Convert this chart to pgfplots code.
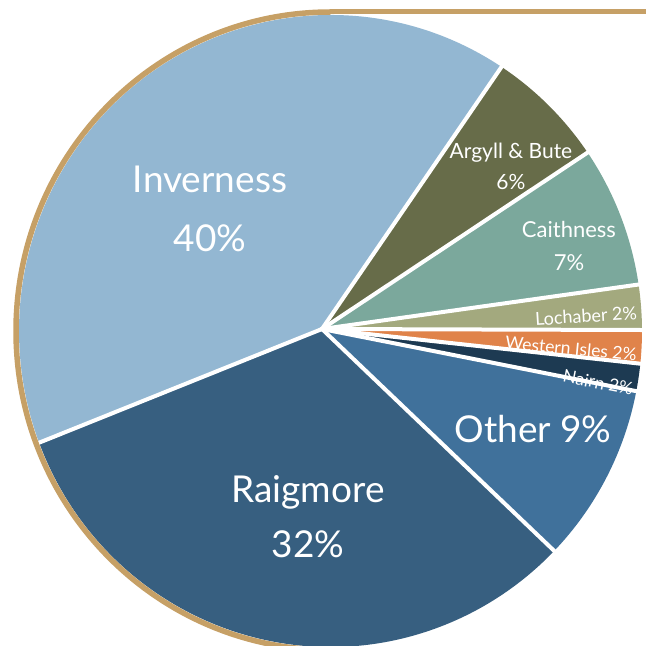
\documentclass[border=0pt]{standalone}
\usepackage{pgfplots}
\pgfplotsset{compat=1.18}
\usepackage{pgfplotstable}
\usepackage{fontspec}
\setmainfont{Lato}
\definecolor{c0}{HTML}{93B7D2}
\definecolor{c1}{HTML}{375F80}
\definecolor{c2}{HTML}{40719B}
\definecolor{c3}{HTML}{1D3A52}
\definecolor{c4}{HTML}{E0834A}
\definecolor{c5}{HTML}{A3A97E}
\definecolor{c6}{HTML}{7BA89C}
\definecolor{c7}{HTML}{676C49}
\definecolor{tanline}{HTML}{C6A066}
% order: Inverness, Raigmore, Other, Nairn, Western Isles, Lochaber, Caithness, Argyll & Bute
\pgfplotstableread{
value
40.0
32.0
9.2
1.4
1.7
2.3
7.2
6.2
}\piedata
\begin{document}
\begin{tikzpicture}
\path[use as bounding box] (0,0) rectangle (646pt,646pt);
\def\acc{56.7}
\pgfplotsforeachungrouped \i in {0,...,7}{%
  \pgfplotstablegetelem{\i}{value}\of\piedata
  \pgfmathsetmacro{\endang}{\acc+3.6*\pgfplotsretval}%
  \expandafter\xdef\csname sa\i\endcsname{\acc}%
  \expandafter\xdef\csname ea\i\endcsname{\endang}%
  \xdef\acc{\endang}%
}
\begin{axis}[at={(0,0)}, anchor=south west, x=1pt, y=1pt,
  xmin=0, xmax=646, ymin=0, ymax=646, enlargelimits=false,
  scale only axis, hide axis, clip=true]
\pgfplotsinvokeforeach{0,...,7}{
  \fill[c#1] (axis cs:322,317) -- (axis cs:{330.5+311.5*cos(\csname sa#1\endcsname)},{315+316*sin(\csname sa#1\endcsname)})
    arc[start angle=\csname sa#1\endcsname, end angle=\csname ea#1\endcsname, x radius=311.5pt, y radius=316pt] -- cycle;
}
\pgfplotsinvokeforeach{0,...,7}{
  \draw[white, line width=4pt, line cap=round] (axis cs:322,317) --
    (axis cs:{322+1.05*(8.5+311.5*cos(\csname sa#1\endcsname))},{317+1.05*(-2+316*sin(\csname sa#1\endcsname))});
}
\draw[tanline, line width=5.5pt] (axis cs:330.5,634) arc[start angle=90, end angle=270, x radius=314.5pt, y radius=319pt];
\draw[tanline, line width=5pt] (axis cs:330,634) -- (axis cs:660,634);
% labels
\begin{scope}[every node/.style={white, inner sep=0pt}]
\node[anchor=base, font=\fontsize{37}{40}\selectfont] at (axis cs:210,453) {Inverness};
\node[anchor=base, font=\fontsize{37}{40}\selectfont] at (axis cs:210,394) {40\%};
\node[anchor=base, font=\fontsize{37}{40}\selectfont] at (axis cs:308,143) {Raigmore};
\node[anchor=base, font=\fontsize{37}{40}\selectfont] at (axis cs:308,88) {32\%};
\node[anchor=base, font=\fontsize{37}{40}\selectfont] at (axis cs:533,203) {Other 9\%};
\node[anchor=base, font=\fontsize{21}{24}\selectfont] at (axis cs:511,487) {Argyll \& Bute};
\node[anchor=base, font=\fontsize{21}{24}\selectfont] at (axis cs:511,456) {6\%};
\node[anchor=base, font=\fontsize{22}{24}\selectfont] at (axis cs:569,408) {Caithness};
\node[anchor=base, font=\fontsize{22}{24}\selectfont] at (axis cs:569,375) {7\%};
\node[anchor=center, rotate=3.5, font=\fontsize{18}{20}\selectfont] at (axis cs:586,330) {Lochaber 2\%};
\node[anchor=center, rotate=-5.5, font=\fontsize{17.5}{20}\selectfont] at (axis cs:571,297.5) {Western Isles 2\%};
\node[anchor=center, rotate=-11, font=\fontsize{17.5}{20}\selectfont] at (axis cs:598,263.5) {Nairn 2\%};
\end{scope}
\end{axis}
\end{tikzpicture}
\end{document}
